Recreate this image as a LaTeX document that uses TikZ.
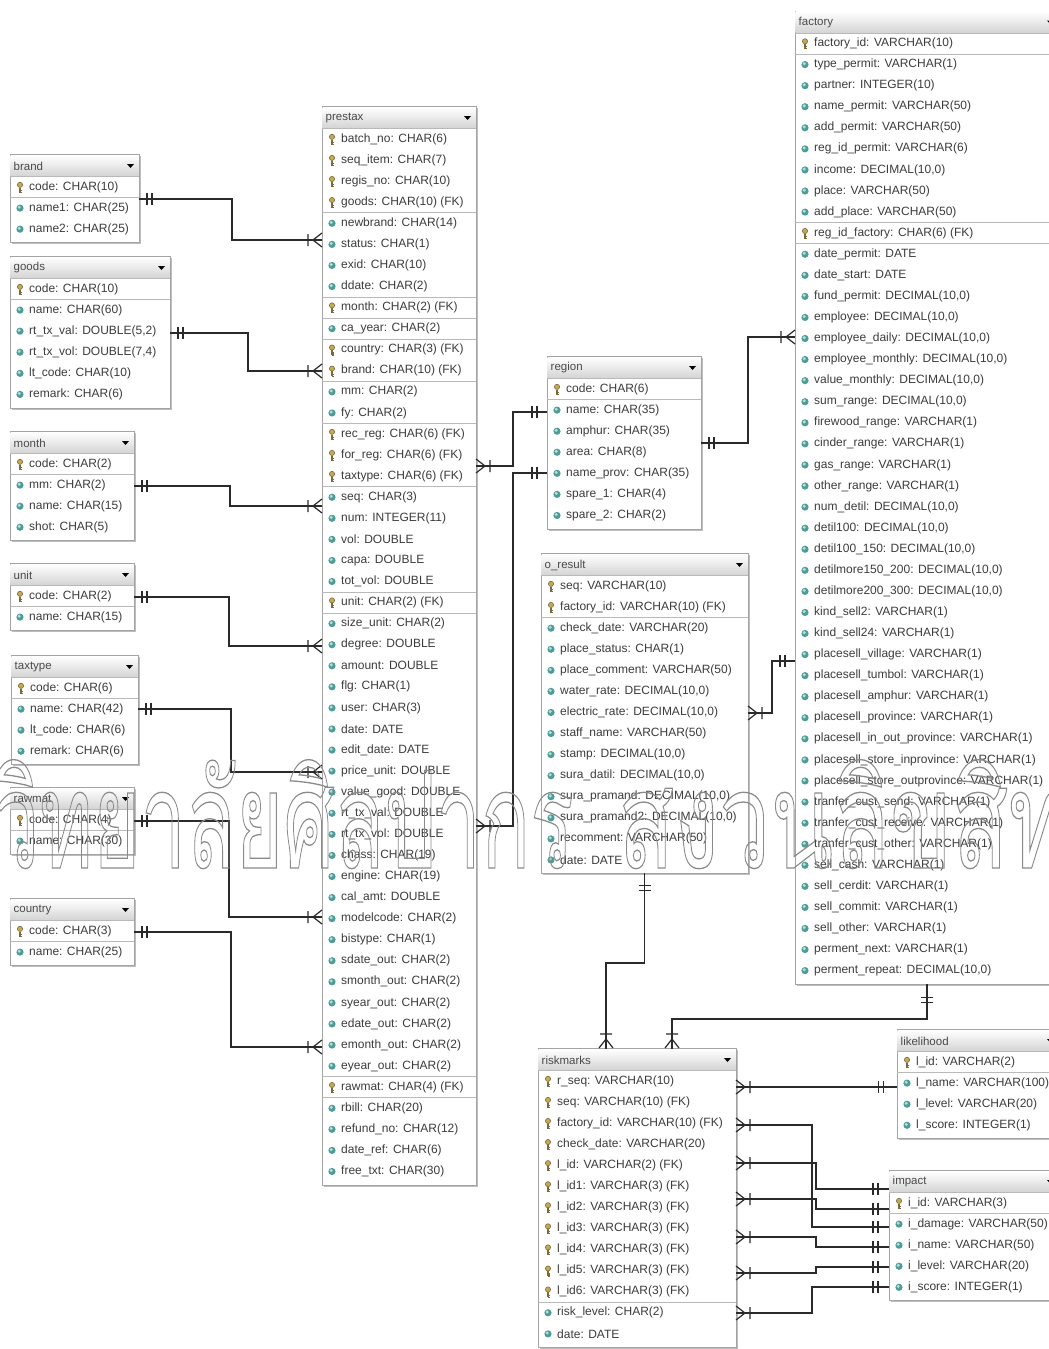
\documentclass[tikz,border=0pt]{standalone}
\usepackage{fontspec}
\setmainfont{Liberation Sans}
\newfontfamily\thaifont[Script=Thai]{Loma}

\definecolor{boxline}{HTML}{A4A4A4}
\definecolor{boxshadow}{HTML}{BDBDBD}
\definecolor{titlegray}{HTML}{D4D4D4}
\definecolor{sepgray}{HTML}{B9B9B9}
\definecolor{rowgray}{HTML}{3C3C3C}
\definecolor{headgray}{HTML}{4A4A4A}
\definecolor{conngray}{HTML}{2A2A2A}
\definecolor{keygold}{HTML}{C8A850}
\definecolor{keydark}{HTML}{7B6A3A}
\definecolor{coldark}{HTML}{4D9C98}
\definecolor{collight}{HTML}{B0DED8}
\definecolor{wmgray}{HTML}{8A8A8A}

\tikzset{
  tablebox/.style={draw=boxline, fill=white, line width=0.8pt, inner sep=0pt, outer sep=0pt},
  sepline/.style={draw=sepgray, line width=0.7pt},
  titletext/.style={anchor=west, inner sep=0pt, text=headgray, font=\fontsize{11.5}{13}\selectfont},
  rowtext/.style={anchor=west, inner sep=0pt, text=rowgray, font=\fontsize{12}{14}\selectfont},
  conn/.style={draw=conngray, line width=1.2pt},
  pics/keyicon/.style={code={
    \draw[keydark, line width=1.1pt] (0,0.5) -- (0,5.5) (0,3.3) -- (2,3.3) (0,5.3) -- (1.8,5.3);
    \filldraw[fill=keygold, draw=keydark, line width=0.6pt] (0,-2.2) circle (2.6);
  }},
  pics/colicon/.style={code={
    \fill[coldark] (0,0) circle (3.6);
    \fill[collight] (-0.8,-0.9) circle (1.7);
  }},
  % crow's foot: apex at the origin, prongs open towards +x, bar behind the apex
  pics/crow/.style={code={
    \draw[conn] (0,0) -- (9,-7) (0,0) -- (9,7) (-5,-6) -- (-5,6);
  }},
  % mandatory-one mark: two ticks across the line
  pics/mand/.style={code={
    \draw[conn] (-2.5,-6) -- (-2.5,6) (2.5,-6) -- (2.5,6);
  }},
}

\newcounter{erRow}
% \erBox{name}{left}{right}{top}{rows}{title}
\newcommand\erBox[6]{%
  \gdef\erName{#1}\gdef\erL{#2}\gdef\erR{#3}\gdef\erT{#4}\gdef\erPrev{x}%
  \setcounter{erRow}{0}%
  \pgfmathsetmacro\erBot{#4+25+#5*21.07}%
  \pgfmathsetmacro\erW{#3-#2}%
  \pgfmathsetmacro\erH{\erBot-#4}%
  \fill[boxshadow] (#2+1.6,#4+1.6) rectangle (#3+1.6,\erBot+1.6);
  \node[tablebox, minimum width=\erW pt, minimum height=\erH pt, anchor=north west] (#1) at (#2,#4) {};
  \shade[top color=white, bottom color=titlegray] (#2+0.6,#4+0.6) rectangle (#3-0.6,#4+21.5);
  \draw[sepline] (#2,#4+22) -- (#3,#4+22);
  \node[titletext] (#1-title) at (#2+3.5,#4+11.5) {#6};
  \fill[black] (#3-12,#4+9.5) -- (#3-5,#4+9.5) -- (#3-8.5,#4+13.5) -- cycle;
}
% \erRow{k|c}{text}  k = key column, c = plain column
\newcommand\erRow[2]{%
  \stepcounter{erRow}%
  \pgfmathsetmacro\ry{\erT+22+(\the\value{erRow}-0.5)*21.07}%
  \def\erCur{#1}%
  \ifnum\value{erRow}>1
    \ifx\erCur\erPrev\else
      \draw[sepline] (\erL,\ry-10.5) -- (\erR,\ry-10.5);
    \fi
  \fi
  \global\let\erPrev\erCur
  \if k#1\pic at (\erL+10,\ry) {keyicon};\else\pic at (\erL+10,\ry) {colicon};\fi
  \node[rowtext] (\erName-\the\value{erRow}) at (\erL+19,\ry) {#2};
}

% hollow (stroked only) Thai lettering
\newcommand\wmtext[2]{\scalebox{#1}[1]{\fontsize{135}{140}\thaifont\color{wmgray}%
  \special{pdf:literal direct 1 Tr 1.3 w}#2\special{pdf:literal direct 0 Tr}}}

\begin{document}
\begin{tikzpicture}[x=1pt,y=-1pt]
\useasboundingbox (0,0) rectangle (1049,1349);
\clip (0,0) rectangle (1049,1349);
\fill[white] (0,0) rectangle (1049,1349);

% ---------------- lookup tables on the left
\erBox{brand}{10}{139}{154.5}{3}{brand}
\erRow{k}{code: CHAR(10)}
\erRow{c}{name1: CHAR(25)}
\erRow{c}{name2: CHAR(25)}

\erBox{goods}{10}{170}{256.5}{6}{goods}
\erRow{k}{code: CHAR(10)}
\erRow{c}{name: CHAR(60)}
\erRow{c}{rt\_tx\_val: DOUBLE(5,2)}
\erRow{c}{rt\_tx\_vol: DOUBLE(7,4)}
\erRow{c}{lt\_code: CHAR(10)}
\erRow{c}{remark: CHAR(6)}

\erBox{month}{10}{134}{431.5}{4}{month}
\erRow{k}{code: CHAR(2)}
\erRow{c}{mm: CHAR(2)}
\erRow{c}{name: CHAR(15)}
\erRow{c}{shot: CHAR(5)}

\erBox{unit}{10}{134}{563.5}{2}{unit}
\erRow{k}{code: CHAR(2)}
\erRow{c}{name: CHAR(15)}

\erBox{taxtype}{11}{138}{655.5}{4}{taxtype}
\erRow{k}{code: CHAR(6)}
\erRow{c}{name: CHAR(42)}
\erRow{c}{lt\_code: CHAR(6)}
\erRow{c}{remark: CHAR(6)}

\erBox{rawmat}{10}{134}{787.5}{2}{rawmat}
\erRow{k}{code: CHAR(4)}
\erRow{c}{name: CHAR(30)}

\erBox{country}{10}{134}{898.5}{2}{country}
\erRow{k}{code: CHAR(3)}
\erRow{c}{name: CHAR(25)}

% ---------------- main tax table
\erBox{prestax}{322}{476}{106.5}{50}{prestax}
\erRow{k}{batch\_no: CHAR(6)}
\erRow{k}{seq\_item: CHAR(7)}
\erRow{k}{regis\_no: CHAR(10)}
\erRow{k}{goods: CHAR(10) (FK)}
\erRow{c}{newbrand: CHAR(14)}
\erRow{c}{status: CHAR(1)}
\erRow{c}{exid: CHAR(10)}
\erRow{c}{ddate: CHAR(2)}
\erRow{k}{month: CHAR(2) (FK)}
\erRow{c}{ca\_year: CHAR(2)}
\erRow{k}{country: CHAR(3) (FK)}
\erRow{k}{brand: CHAR(10) (FK)}
\erRow{c}{mm: CHAR(2)}
\erRow{c}{fy: CHAR(2)}
\erRow{k}{rec\_reg: CHAR(6) (FK)}
\erRow{k}{for\_reg: CHAR(6) (FK)}
\erRow{k}{taxtype: CHAR(6) (FK)}
\erRow{c}{seq: CHAR(3)}
\erRow{c}{num: INTEGER(11)}
\erRow{c}{vol: DOUBLE}
\erRow{c}{capa: DOUBLE}
\erRow{c}{tot\_vol: DOUBLE}
\erRow{k}{unit: CHAR(2) (FK)}
\erRow{c}{size\_unit: CHAR(2)}
\erRow{c}{degree: DOUBLE}
\erRow{c}{amount: DOUBLE}
\erRow{c}{flg: CHAR(1)}
\erRow{c}{user: CHAR(3)}
\erRow{c}{date: DATE}
\erRow{c}{edit\_date: DATE}
\erRow{c}{price\_unit: DOUBLE}
\erRow{c}{value\_good: DOUBLE}
\erRow{c}{rt\_tx\_val: DOUBLE}
\erRow{c}{rt\_tx\_vol: DOUBLE}
\erRow{c}{chass: CHAR(19)}
\erRow{c}{engine: CHAR(19)}
\erRow{c}{cal\_amt: DOUBLE}
\erRow{c}{modelcode: CHAR(2)}
\erRow{c}{bistype: CHAR(1)}
\erRow{c}{sdate\_out: CHAR(2)}
\erRow{c}{smonth\_out: CHAR(2)}
\erRow{c}{syear\_out: CHAR(2)}
\erRow{c}{edate\_out: CHAR(2)}
\erRow{c}{emonth\_out: CHAR(2)}
\erRow{c}{eyear\_out: CHAR(2)}
\erRow{k}{rawmat: CHAR(4) (FK)}
\erRow{c}{rbill: CHAR(20)}
\erRow{c}{refund\_no: CHAR(12)}
\erRow{c}{date\_ref: CHAR(6)}
\erRow{c}{free\_txt: CHAR(30)}

% ---------------- region and survey result
\erBox{region}{547}{701}{356.5}{7}{region}
\erRow{k}{code: CHAR(6)}
\erRow{c}{name: CHAR(35)}
\erRow{c}{amphur: CHAR(35)}
\erRow{c}{area: CHAR(8)}
\erRow{c}{name\_prov: CHAR(35)}
\erRow{c}{spare\_1: CHAR(4)}
\erRow{c}{spare\_2: CHAR(2)}

\erBox{oresult}{541}{748}{553.5}{14}{o\_result}
\erRow{k}{seq: VARCHAR(10)}
\erRow{k}{factory\_id: VARCHAR(10) (FK)}
\erRow{c}{check\_date: VARCHAR(20)}
\erRow{c}{place\_status: CHAR(1)}
\erRow{c}{place\_comment: VARCHAR(50)}
\erRow{c}{water\_rate: DECIMAL(10,0)}
\erRow{c}{electric\_rate: DECIMAL(10,0)}
\erRow{c}{staff\_name: VARCHAR(50)}
\erRow{c}{stamp: DECIMAL(10,0)}
\erRow{c}{sura\_datil: DECIMAL(10,0)}
\erRow{c}{sura\_pramand: DECIMAL(10,0)}
\erRow{c}{sura\_pramand2: DECIMAL(10,0)}
\erRow{c}{recomment: VARCHAR(50)}
\erRow{c}{date: DATE}

% ---------------- factory
\erBox{factory}{795}{1059}{11}{45}{factory}
\erRow{k}{factory\_id: VARCHAR(10)}
\erRow{c}{type\_permit: VARCHAR(1)}
\erRow{c}{partner: INTEGER(10)}
\erRow{c}{name\_permit: VARCHAR(50)}
\erRow{c}{add\_permit: VARCHAR(50)}
\erRow{c}{reg\_id\_permit: VARCHAR(6)}
\erRow{c}{income: DECIMAL(10,0)}
\erRow{c}{place: VARCHAR(50)}
\erRow{c}{add\_place: VARCHAR(50)}
\erRow{k}{reg\_id\_factory: CHAR(6) (FK)}
\erRow{c}{date\_permit: DATE}
\erRow{c}{date\_start: DATE}
\erRow{c}{fund\_permit: DECIMAL(10,0)}
\erRow{c}{employee: DECIMAL(10,0)}
\erRow{c}{employee\_daily: DECIMAL(10,0)}
\erRow{c}{employee\_monthly: DECIMAL(10,0)}
\erRow{c}{value\_monthly: DECIMAL(10,0)}
\erRow{c}{sum\_range: DECIMAL(10,0)}
\erRow{c}{firewood\_range: VARCHAR(1)}
\erRow{c}{cinder\_range: VARCHAR(1)}
\erRow{c}{gas\_range: VARCHAR(1)}
\erRow{c}{other\_range: VARCHAR(1)}
\erRow{c}{num\_detil: DECIMAL(10,0)}
\erRow{c}{detil100: DECIMAL(10,0)}
\erRow{c}{detil100\_150: DECIMAL(10,0)}
\erRow{c}{detilmore150\_200: DECIMAL(10,0)}
\erRow{c}{detilmore200\_300: DECIMAL(10,0)}
\erRow{c}{kind\_sell2: VARCHAR(1)}
\erRow{c}{kind\_sell24: VARCHAR(1)}
\erRow{c}{placesell\_village: VARCHAR(1)}
\erRow{c}{placesell\_tumbol: VARCHAR(1)}
\erRow{c}{placesell\_amphur: VARCHAR(1)}
\erRow{c}{placesell\_province: VARCHAR(1)}
\erRow{c}{placesell\_in\_out\_province: VARCHAR(1)}
\erRow{c}{placesell\_store\_inprovince: VARCHAR(1)}
\erRow{c}{placesell\_store\_outprovince: VARCHAR(1)}
\erRow{c}{tranfer\_cust\_send: VARCHAR(1)}
\erRow{c}{tranfer\_cust\_receive: VARCHAR(1)}
\erRow{c}{tranfer\_cust\_other: VARCHAR(1)}
\erRow{c}{sell\_cash: VARCHAR(1)}
\erRow{c}{sell\_cerdit: VARCHAR(1)}
\erRow{c}{sell\_commit: VARCHAR(1)}
\erRow{c}{sell\_other: VARCHAR(1)}
\erRow{c}{perment\_next: VARCHAR(1)}
\erRow{c}{perment\_repeat: DECIMAL(10,0)}

% ---------------- risk assessment
\erBox{riskmarks}{538}{736}{1048.5}{13}{riskmarks}
\erRow{k}{r\_seq: VARCHAR(10)}
\erRow{k}{seq: VARCHAR(10) (FK)}
\erRow{k}{factory\_id: VARCHAR(10) (FK)}
\erRow{k}{check\_date: VARCHAR(20)}
\erRow{k}{l\_id: VARCHAR(2) (FK)}
\erRow{k}{l\_id1: VARCHAR(3) (FK)}
\erRow{k}{l\_id2: VARCHAR(3) (FK)}
\erRow{k}{l\_id3: VARCHAR(3) (FK)}
\erRow{k}{l\_id4: VARCHAR(3) (FK)}
\erRow{k}{l\_id5: VARCHAR(3) (FK)}
\erRow{k}{l\_id6: VARCHAR(3) (FK)}
\erRow{c}{risk\_level: CHAR(2)}
\erRow{c}{date: DATE}

\erBox{likelihood}{897}{1059}{1029.5}{4}{likelihood}
\erRow{k}{l\_id: VARCHAR(2)}
\erRow{c}{l\_name: VARCHAR(100)}
\erRow{c}{l\_level: VARCHAR(20)}
\erRow{c}{l\_score: INTEGER(1)}

\erBox{impact}{889}{1059}{1170.5}{5}{impact}
\erRow{k}{i\_id: VARCHAR(3)}
\erRow{c}{i\_damage: VARCHAR(50)}
\erRow{c}{i\_name: VARCHAR(50)}
\erRow{c}{i\_level: VARCHAR(20)}
\erRow{c}{i\_score: INTEGER(1)}

% ---------------- relationships: lookup tables -> prestax
\draw[conn] (brand.east |- 0,199) -| (232,240) -- (prestax.west |- 0,240);
\pic at (149.5,199) {mand}; \pic at (313,240) {crow};
\draw[conn] (goods.east |- 0,333) -| (248,371) -- (prestax.west |- 0,371);
\pic at (180.5,333) {mand}; \pic at (313,371) {crow};
\draw[conn] (month.east |- 0,486) -| (230,506) -- (prestax.west |- 0,506);
\pic at (144.5,486) {mand}; \pic at (313,506) {crow};
\draw[conn] (unit.east |- 0,597) -| (229,646) -- (prestax.west |- 0,646);
\pic at (144.5,597) {mand}; \pic at (313,646) {crow};
\draw[conn] (taxtype.east |- 0,709) -| (231,772) -- (prestax.west |- 0,772);
\pic at (148.5,709) {mand}; \pic at (313,772) {crow};
\draw[conn] (rawmat.east |- 0,821) -| (229,917) -- (prestax.west |- 0,917);
\pic at (144.5,821) {mand}; \pic at (313,917) {crow};
\draw[conn] (country.east |- 0,932) -| (231,1047) -- (prestax.west |- 0,1047);
\pic at (144.5,932) {mand}; \pic at (313,1047) {crow};

% prestax -> region (receiving and forwarding region)
\draw[conn] (prestax.east |- 0,466) -| (513,412) -- (region.west |- 0,412);
\pic[rotate=180] at (485,466) {crow}; \pic at (534.5,412) {mand};
\draw[conn] (prestax.east |- 0,826) -| (513,473) -- (region.west |- 0,473);
\pic[rotate=180] at (485,826) {crow}; \pic at (534.5,473) {mand};

% region -> factory
\draw[conn] (region.east |- 0,443) -| (748,337) -- (factory.west |- 0,337);
\pic at (711.5,443) {mand}; \pic at (786,337) {crow};

% o_result -> factory
\draw[conn] (oresult.east |- 0,713) -| (772,661) -- (factory.west |- 0,661);
\pic[rotate=180] at (757,713) {crow}; \pic at (782.5,661) {mand};

% o_result / factory -> riskmarks
\draw[conn] (oresult.south) |- (606,963) -- (riskmarks.north -| 606,0);
\pic[rotate=90] at (oresult.south |- 0,888) {mand}; \pic[rotate=-90] at (606,1039) {crow};
\draw[conn] (factory.south) |- (672,1019) -- (riskmarks.north -| 672,0);
\pic[rotate=90] at (factory.south |- 0,1000) {mand}; \pic[rotate=-90] at (672,1039) {crow};

% riskmarks -> likelihood
\draw[conn] (riskmarks.east |- 0,1087) -- (likelihood.west |- 0,1087);
\pic[rotate=180] at (745,1087) {crow}; \pic at (881,1087) {mand};

% riskmarks -> impact (six impact keys)
\draw[conn] (riskmarks.east |- 0,1125) -| (812,1227) -- (impact.west |- 0,1227);
\draw[conn] (riskmarks.east |- 0,1163) -| (816,1189) -- (impact.west |- 0,1189);
\draw[conn] (riskmarks.east |- 0,1199) -| (816,1209) -- (impact.west |- 0,1209);
\draw[conn] (riskmarks.east |- 0,1237) -| (816,1247) -- (impact.west |- 0,1247);
\draw[conn] (riskmarks.east |- 0,1273) -| (816,1267) -- (impact.west |- 0,1267);
\draw[conn] (riskmarks.east |- 0,1313) -| (812,1287) -- (impact.west |- 0,1287);
\foreach \yy in {1125,1163,1199,1237,1273,1313} { \pic[rotate=180] at (745,\yy) {crow}; }
\foreach \yy in {1189,1209,1227,1247,1267,1287} { \pic at (875.5,\yy) {mand}; }

% ---------------- outlined watermark
\node[anchor=base west, inner sep=0pt] (wmleft) at (-6,868) {\wmtext{0.6}{วิทยาลัยศิลปากร}};
\node[anchor=base west, inner sep=0pt] (wmright) at (618,868) {\wmtext{0.68}{สงวนลิขสิทธิ์}};
\end{tikzpicture}
\end{document}
